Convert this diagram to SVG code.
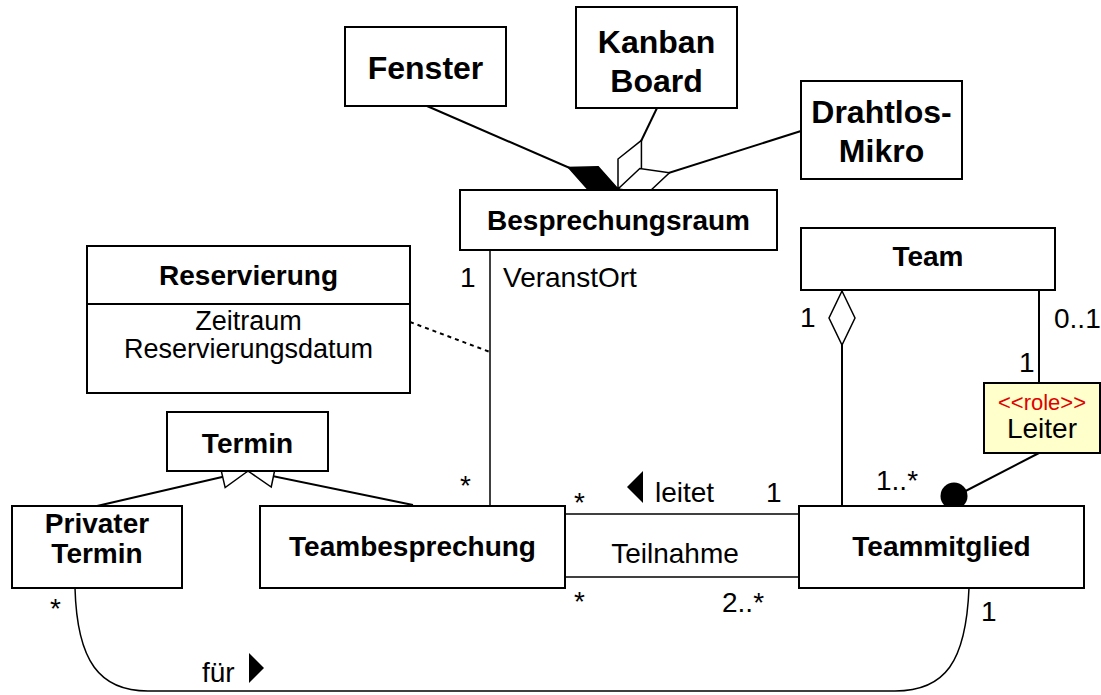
<svg xmlns="http://www.w3.org/2000/svg" width="1101" height="695" viewBox="0 0 1101 695">
<style>
.box{fill:#fff;stroke:#000;stroke-width:2}
.note{fill:#ffffcc;stroke:#000;stroke-width:2}
.t{font-family:"Liberation Sans",Arial,sans-serif;font-size:28px;fill:#000}
.b{font-weight:bold}
.c{text-anchor:middle}
.k32{font-size:32px}
.attr{font-size:27px}
.role{font-size:22px;fill:#e00000}
.ln{fill:none;stroke:#000;stroke-width:2}
.thin{fill:none;stroke:#000;stroke-width:1.5}
.dot{fill:none;stroke:#000;stroke-width:2;stroke-dasharray:4 4}
</style>
<defs>
<marker id="dFill" markerUnits="userSpaceOnUse" orient="auto" refX="0" refY="0" markerWidth="60" markerHeight="30" viewBox="-2 -15 60 30" overflow="visible">
<path d="M0,0 L27,-12.5 L54,0 L27,12.5 Z" fill="#000" stroke="#000" stroke-width="1.5"/>
</marker>
<marker id="dOpen" markerUnits="userSpaceOnUse" orient="auto" refX="0" refY="0" markerWidth="60" markerHeight="30" viewBox="-2 -15 60 30" overflow="visible">
<path d="M0,0 L27,-13 L54,0 L27,13 Z" fill="#fff" stroke="#000" stroke-width="1.5"/>
</marker>
<marker id="gen" markerUnits="userSpaceOnUse" orient="auto" refX="0" refY="0" markerWidth="30" markerHeight="26" viewBox="-2 -13 30 26" overflow="visible">
<path d="M0,0 L26,-11 L26,11 Z" fill="#fff" stroke="#000" stroke-width="1.5"/>
</marker>
</defs>

<g id="connectors">
<path class="ln" d="M618,189 L427,106" marker-start="url(#dFill)"/>
<path class="ln" d="M618,189 L657,108" marker-start="url(#dOpen)"/>
<path class="ln" d="M618,189 L801,131" marker-start="url(#dOpen)"/>
<path class="thin" d="M490,250 L490,506"/>
<path class="dot" d="M410,322 L490,352"/>
<path class="ln" d="M248,471 L97,506" marker-start="url(#gen)"/>
<path class="ln" d="M248,471 L413,505" marker-start="url(#gen)"/>
<path class="thin" d="M565,514 L799,514"/>
<path class="thin" d="M565,577 L799,577"/>
<path class="ln" d="M842,291 L842,506" marker-start="url(#dOpen)"/>
<path class="ln" d="M1039,290 L1039,383"/>
<path class="ln" d="M1039,453 L954,497"/>
<circle cx="954" cy="496" r="13.5" fill="#000"/>
<path class="thin" d="M75,588 C77,662 100,691 148,691 L895,691 C945,691 966,662 969,588"/>
<path d="M627,487 L643,471 L643,503 Z" fill="#000"/>
<path d="M264,668 L249,653 L249,683 Z" fill="#000"/>
<text class="t" x="460" y="287">1</text>
<text class="t" x="503" y="287">VeranstOrt</text>
<text class="t" x="460" y="495">*</text>
<text class="t" x="574" y="512">*</text>
<text class="t" x="655" y="502">leitet</text>
<text class="t" x="766" y="502">1</text>
<text class="t c" x="675" y="563">Teilnahme</text>
<text class="t" x="574" y="611">*</text>
<text class="t" x="722" y="612">2..*</text>
<text class="t" x="800" y="327">1</text>
<text class="t" x="1054" y="328">0..1</text>
<text class="t" x="1019" y="372">1</text>
<text class="t" x="876" y="490">1..*</text>
<text class="t" x="50" y="618">*</text>
<text class="t" x="981" y="621">1</text>
<text class="t" x="202" y="682">für</text>
</g>

<g id="fenster">
<rect class="box" x="345" y="27" width="161" height="79"/>
<text class="t b c k32" x="425.5" y="79">Fenster</text>
</g>
<g id="kanban">
<rect class="box" x="576" y="7" width="161" height="101"/>
<text class="t b c k32" x="656.5" y="53">Kanban</text>
<text class="t b c k32" x="656.5" y="92">Board</text>
</g>
<g id="drahtlos">
<rect class="box" x="801" y="81" width="161" height="98"/>
<text class="t b c k32" x="881.5" y="123">Drahtlos-</text>
<text class="t b c k32" x="881.5" y="162">Mikro</text>
</g>
<g id="besprechungsraum">
<rect class="box" x="460" y="190" width="317" height="60"/>
<text class="t b c" x="618.5" y="230">Besprechungsraum</text>
</g>
<g id="team">
<rect class="box" x="801" y="228" width="254" height="62"/>
<text class="t b c" x="928" y="266">Team</text>
</g>
<g id="reservierung">
<rect class="box" x="87" y="246" width="323" height="147"/>
<line x1="87" y1="304" x2="410" y2="304" stroke="#000" stroke-width="2"/>
<text class="t b c" x="248.5" y="285">Reservierung</text>
<text class="t c attr" x="248.5" y="330">Zeitraum</text>
<text class="t c attr" x="248.5" y="358">Reservierungsdatum</text>
</g>
<g id="termin">
<rect class="box" x="167" y="412" width="161" height="59"/>
<text class="t b c" x="247.5" y="453">Termin</text>
</g>
<g id="privater-termin">
<rect class="box" x="12" y="506" width="170" height="82"/>
<text class="t b c" x="97" y="533">Privater</text>
<text class="t b c" x="97" y="563">Termin</text>
</g>
<g id="teambesprechung">
<rect class="box" x="260" y="506" width="305" height="82"/>
<text class="t b c" x="412.5" y="556">Teambesprechung</text>
</g>
<g id="teammitglied">
<rect class="box" x="799" y="506" width="285" height="82"/>
<text class="t b c" x="941.5" y="556">Teammitglied</text>
</g>
<g id="leiter">
<rect class="note" x="984" y="383" width="116" height="70"/>
<text class="t c role" x="1042" y="410">&lt;&lt;role&gt;&gt;</text>
<text class="t c" x="1042" y="438">Leiter</text>
</g>
</svg>
